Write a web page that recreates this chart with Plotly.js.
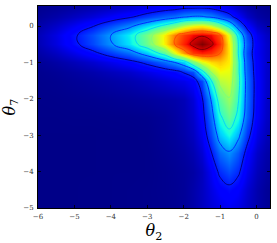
<!DOCTYPE html>
<html>
<head>
<meta charset="utf-8">
<script src="https://cdn.plot.ly/plotly-3.0.1.min.js"></script>
<style>html,body{margin:0;padding:0;background:#fff;}#chart{width:277px;height:243px;}</style>
</head>
<body>
<div id="chart"></div>
<script>
// theta_2 grid positions (columns)
const theta2 = [-6, -5.5, -5, -4.5, -4, -3.5, -3, -2.5, -2.25, -2, -1.75, -1.5, -1.25, -1, -0.75, -0.5, -0.25, 0, 0.25, 0.5];
// theta_7 grid positions (rows, ascending)
const theta7 = [-5, -4.5, -4, -3.5, -3, -2.5, -2, -1.5, -1.25, -1, -0.75, -0.5, -0.25, 0, 0.25, 0.5];
// estimated normalised density, one row per theta7 value
const density = [
  [0.008,0.008,0.008,0.009,0.009,0.010,0.011,0.013,0.016,0.022,0.035,0.055,0.075,0.090,0.100,0.088,0.062,0.038,0.022,0.014],
  [0.008,0.008,0.008,0.009,0.009,0.010,0.011,0.014,0.017,0.022,0.036,0.055,0.085,0.115,0.132,0.112,0.072,0.040,0.022,0.014],
  [0.008,0.008,0.008,0.008,0.009,0.009,0.010,0.014,0.018,0.023,0.032,0.054,0.101,0.166,0.198,0.162,0.096,0.051,0.031,0.022],
  [0.008,0.008,0.008,0.008,0.009,0.009,0.010,0.017,0.022,0.029,0.043,0.074,0.142,0.231,0.267,0.211,0.122,0.064,0.038,0.027],
  [0.008,0.008,0.008,0.008,0.009,0.009,0.011,0.020,0.027,0.038,0.056,0.099,0.194,0.321,0.378,0.302,0.175,0.089,0.052,0.036],
  [0.009,0.009,0.010,0.010,0.011,0.012,0.014,0.022,0.031,0.044,0.066,0.118,0.235,0.395,0.472,0.385,0.222,0.110,0.063,0.043],
  [0.010,0.011,0.013,0.015,0.018,0.022,0.027,0.034,0.039,0.049,0.077,0.140,0.285,0.465,0.535,0.418,0.235,0.117,0.067,0.045],
  [0.012,0.015,0.021,0.027,0.034,0.042,0.055,0.073,0.085,0.094,0.115,0.195,0.400,0.575,0.600,0.440,0.235,0.118,0.068,0.047],
  [0.014,0.020,0.029,0.039,0.052,0.065,0.088,0.115,0.130,0.160,0.200,0.380,0.550,0.640,0.630,0.430,0.225,0.113,0.068,0.047],
  [0.020,0.033,0.050,0.070,0.095,0.122,0.168,0.232,0.280,0.340,0.500,0.620,0.680,0.700,0.660,0.430,0.215,0.111,0.069,0.048],
  [0.033,0.057,0.091,0.131,0.180,0.232,0.322,0.460,0.620,0.750,0.850,0.880,0.860,0.800,0.670,0.410,0.200,0.105,0.068,0.047],
  [0.045,0.082,0.134,0.194,0.269,0.348,0.477,0.660,0.800,0.880,0.950,1.000,0.950,0.860,0.660,0.410,0.216,0.107,0.068,0.048],
  [0.047,0.085,0.139,0.202,0.279,0.361,0.490,0.660,0.780,0.850,0.900,0.920,0.900,0.820,0.620,0.370,0.195,0.096,0.061,0.043],
  [0.035,0.063,0.100,0.145,0.200,0.258,0.343,0.440,0.500,0.580,0.630,0.650,0.600,0.500,0.380,0.230,0.122,0.062,0.041,0.030],
  [0.022,0.037,0.057,0.080,0.109,0.139,0.183,0.226,0.245,0.275,0.290,0.290,0.270,0.225,0.180,0.115,0.064,0.035,0.024,0.019],
  [0.015,0.022,0.032,0.044,0.058,0.073,0.095,0.117,0.125,0.139,0.145,0.147,0.136,0.114,0.094,0.062,0.037,0.022,0.016,0.014]
];
// contour levels
const levelStart = 0.15;
const levelEnd = 0.935;
const levelStep = 0.13;
// tick values
const xTicks = [-6, -5, -4, -3, -2, -1, 0];
const yTicks = [-5, -4, -3, -2, -1, 0];

const jet = [
  [0, '#00007f'], [0.11, '#0000ff'], [0.125, '#0000ff'], [0.34, '#00dbff'],
  [0.35, '#00e5f7'], [0.375, '#15ffe2'], [0.64, '#eeff08'], [0.65, '#f7f600'],
  [0.66, '#ffec00'], [0.89, '#ff1300'], [0.91, '#e80000'], [1, '#800000']
];

const heat = {
  type: 'heatmap', x: theta2, y: theta7, z: density,
  colorscale: jet, zmin: 0, zmax: 1, zsmooth: 'best', showscale: false, hoverinfo: 'skip'
};
const lines = {
  type: 'contour', x: theta2, y: theta7, z: density,
  colorscale: jet, showscale: false, hoverinfo: 'skip',
  contours: {coloring: 'lines', start: levelStart, end: levelEnd, size: levelStep, showlabels: false},
  line: {width: 1, smoothing: 1.3}
};

const axisCommon = {
  showgrid: false, zeroline: false, showline: true, linecolor: '#000', linewidth: 1,
  mirror: 'ticks', ticks: 'inside', ticklen: 3, tickwidth: 0.8, tickcolor: '#000',
  tickfont: {family: 'DejaVu Serif, serif', size: 7, color: '#333'}
};

const layout = {
  width: 277, height: 243,
  margin: {l: 38, r: 7, t: 6, b: 35},
  paper_bgcolor: '#fff', plot_bgcolor: '#00007f',
  showlegend: false,
  xaxis: Object.assign({}, axisCommon, {
    range: [-6, 0.37], tickvals: xTicks, ticklabelstandoff: 2,
    title: {text: '<i>θ</i><sub>2</sub>', font: {family: 'DejaVu Serif, serif', size: 16, color: '#000'}, standoff: 4}
  }),
  yaxis: Object.assign({}, axisCommon, {
    range: [-5, 0.55], tickvals: yTicks, ticklabelstandoff: 2,
    title: {text: '<i>θ</i><sub>7</sub>', font: {family: 'DejaVu Serif, serif', size: 16, color: '#000'}, standoff: 6}
  })
};

Plotly.newPlot('chart', [heat, lines], layout, {staticPlot: true, displayModeBar: false});
</script>
</body>
</html>
